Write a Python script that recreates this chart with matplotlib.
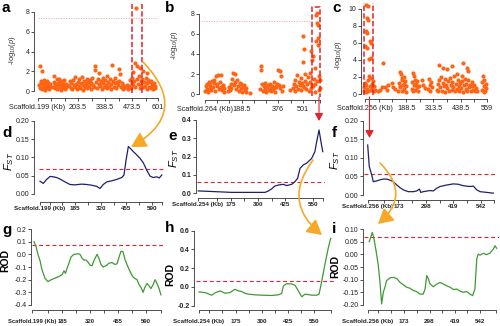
import matplotlib
matplotlib.use("Agg")
import matplotlib.pyplot as plt
from matplotlib.patches import FancyArrowPatch

plt.rcParams["font.family"] = ["Liberation Sans", "DejaVu Sans"]
plt.rcParams["mathtext.fontset"] = "custom"
plt.rcParams["mathtext.rm"] = "Liberation Sans"
plt.rcParams["mathtext.it"] = "Liberation Sans:italic"
plt.rcParams["mathtext.bf"] = "Liberation Sans:bold"

# --- Manhattan plots: SNP position (Kb) and -log10(p)
a_pos = [9, 12, 14, 17, 19, 22, 24, 27, 29, 32, 34, 37, 39, 42, 44, 47, 49, 52, 55, 58, 61, 64,
         78, 81, 84, 87, 90, 93, 96, 99, 102, 105, 108, 111, 114, 117, 120, 123, 126, 129, 132, 135,
         138, 141, 144, 148,
         158, 162, 166, 170, 174, 178, 182, 186, 190, 194, 198, 202, 206, 210, 214, 218, 222, 226,
         230, 234, 238, 242, 246, 250, 254, 258, 262, 266, 270, 274, 278, 282, 286, 290, 294, 298,
         302, 306, 310, 314, 318, 322, 326, 330, 334, 338, 342, 346, 350, 354, 358, 362, 366, 370,
         374, 378, 382, 386, 390, 394, 398, 402, 406, 410, 414, 418, 422, 426, 430, 434,
         440, 447, 452,
         459, 463, 467, 471, 475, 477, 480, 484, 488, 490, 493, 496, 500, 504, 508, 512, 513, 516,
         520, 524, 528, 530, 534, 538, 542, 546, 547, 550, 554, 558, 562, 566, 570, 574, 578, 582,
         586, 589]
a_logp = [0.6, 2.5, 0.3, 1.0, 0.8, 2.0, 0.2, 0.9, 0.5, 1.1, 0.4, 0.7, 0.1, 0.9, 0.6, 0.3, 1.0, 0.5,
          0.8, 0.2, 0.7, 0.4,
          0.4, 0.9, 1.5, 0.3, 0.7, 0.5, 1.2, 0.2, 0.8, 0.6, 1.2, 0.4, 0.9, 0.1, 0.6, 1.0, 0.3, 0.8,
          0.5, 1.1, 0.2, 0.7, 0.4, 0.6,
          0.5, 1.0, 0.3, 0.8, 0.2, 1.1, 0.6, 0.4, 1.4, 0.7, 0.2, 0.9, 0.5, 1.2, 0.3, 0.8, 1.4, 0.6,
          0.1, 1.0, 0.4, 0.7, 1.2, 0.3, 0.9, 0.5, 1.1, 0.2, 0.8, 1.3, 0.6, 0.4, 2.5, 2.1, 0.9, 0.3,
          1.2, 0.7, 1.8, 0.5, 1.0, 0.2, 1.3, 0.8, 0.4, 1.1, 0.6, 1.5, 0.3, 0.9, 0.5, 1.2, 0.2, 0.7,
          2.6, 1.0, 0.4, 0.8, 1.3, 0.3, 0.9, 0.6, 2.2, 1.0, 1.7, 0.4, 0.8, 0.2, 0.6, 0.3,
          0.4, 0.6, 0.2,
          0.5, 1.1, 0.3, 0.8, 1.3, 1.9, 0.6, 1.0, 2.8, 0.4, 8.4, 2.55, 1.2, 0.7, 1.5, 0.3, 2.3, 1.0,
          0.6, 1.2, 0.4, 2.0, 0.9, 0.5, 1.3, 0.2, 1.8, 0.8, 1.1, 0.4, 0.9, 0.3, 1.0, 0.6, 0.2, 0.8,
          0.5, 0.3]

b_pos = [0, 4, 8, 12, 16, 20, 24, 28, 32, 36, 40, 44, 48, 52, 56, 60, 64, 68, 72, 76, 80, 84, 88,
         92, 96, 100,
         118, 122, 127, 131, 135, 140, 144, 148, 152, 156, 161, 165, 170, 174, 178, 183, 187, 191,
         195, 200, 204, 208, 212, 229,
         281, 285, 289, 293, 298, 302, 306, 310, 315, 319, 323, 327, 332, 336, 340, 344, 349, 353,
         357, 361, 366, 370, 374, 378, 383, 387, 392, 396, 400, 434,
         451, 455, 460, 464, 469, 473, 477, 481, 486, 490, 494, 498, 503, 503, 503, 507, 508, 511,
         515, 520, 524, 528, 532, 537, 541, 545, 545, 549, 550, 554, 554, 558, 562, 566, 566, 571,
         571, 573, 575, 575, 580, 580, 582, 584, 584, 588, 588]
b_logp = [0.3, 0.8, 0.5, 1.0, 0.2, 1.2, 0.6, 0.9, 0.4, 1.3, 0.7, 1.1, 1.4, 0.3, 1.8, 0.8, 1.0, 1.9,
          0.5, 1.2, 0.7, 1.9, 0.4, 0.9, 0.6, 0.2,
          0.3, 0.7, 0.4, 1.0, 0.6, 1.5, 2.1, 0.9, 2.0, 1.2, 0.5, 1.4, 0.8, 0.3, 1.1, 0.6, 1.0, 0.2,
          0.7, 0.9, 0.4, 0.6, 0.2, 0.1,
          0.5, 2.8, 2.4, 1.0, 0.3, 0.8, 0.5, 1.1, 0.2, 0.7, 0.9, 0.4, 1.0, 0.6, 0.3, 0.8, 0.5, 1.2,
          0.2, 0.7, 0.7, 1.0, 2.4, 0.9, 2.3, 0.6, 1.8, 0.3, 0.8, 0.4,
          0.6, 1.0, 0.3, 1.4, 0.8, 1.9, 0.5, 1.2, 0.9, 1.6, 0.4, 1.1, 5.8, 3.2, 0.8, 0.7, 4.5, 1.3,
          2.0, 0.5, 1.0, 1.7, 0.3, 1.2, 2.1, 4.3, 0.6, 0.9, 3.4, 3.8, 0.8, 1.5, 2.6, 1.0, 0.2, 7.9,
          5.3, 8.1, 7.1, 1.3, 6.9, 4.9, 5.6, 1.8, 0.4, 0.6, 1.4]

c_pos = [-6, -3, 0, 3, 6, 9, 12, 15, 18, 21, 24, 27, 30, 33, 36, 39, 42, 45,
         5, 12, 8, 12, 3, 11, 0, 8, 23, 28, 20, 28,
         61, 69, 76, 84, 92, 99, 107, 122, 130, 138,
         153, 156, 159, 160, 162, 165, 168, 170, 171, 174, 177, 180, 180, 183, 186, 189,
         214, 217, 220, 222, 225, 226, 228, 231, 234, 237, 240, 243, 246, 260, 268, 275,
         291, 294, 297, 300, 303, 306,
         329, 333, 337, 341, 345, 349, 353, 357, 361, 365, 369, 373, 377, 381, 385, 389, 393, 397,
         401, 405, 409, 413, 417, 421, 425, 429, 433, 437, 441, 445, 449, 453, 457, 461, 465, 469,
         473, 477, 481, 485, 489, 493, 497, 501, 505, 509, 512,
         340, 359, 377, 397, 420, 443, 451, 466, 474,
         535, 538, 541, 544, 544, 547, 550, 553, 556]
c_logp = [0.8, 0.4, 1.3, 0.2, 1.0, 0.6, 1.6, 0.3, 2.1, 0.9, 1.9, 0.5, 1.2, 0.7, 1.5, 0.3, 0.9, 0.5,
          10.5, 10.4, 8.9, 8.7, 7.4, 7.2, 5.6, 5.4, 6.2, 6.0, 4.1, 4.2,
          0.4, 0.5, 0.8, 3.6, 0.8, 0.5, 1.1, 1.3, 0.8, 0.6,
          0.4, 1.3, 2.6, 0.9, 0.8, 2.4, 1.7, 1.9, 0.3, 1.1, 2.0, 0.6, 1.2, 1.5, 0.9, 0.2,
          0.6, 1.4, 0.3, 2.5, 1.0, 2.1, 1.7, 0.5, 1.2, 0.8, 1.5, 0.3, 0.9, 1.7, 1.1, 0.7,
          0.6, 1.8, 1.0, 0.4, 1.4, 0.8,
          0.5, 1.2, 0.3, 1.6, 0.8, 2.0, 0.4, 1.3, 0.9, 1.8, 0.2, 1.1, 0.7, 1.5, 0.3, 1.9, 1.0, 0.5,
          1.4, 0.8, 2.1, 0.3, 1.2, 0.6, 1.7, 0.9, 0.4, 1.3, 0.7, 1.5, 0.2, 1.0, 1.8, 0.6, 1.2, 0.4,
          1.6, 0.8, 1.1, 0.3, 0.9, 1.4, 0.5, 1.0, 0.3, 0.7, 0.4,
          3.45, 3.1, 2.9, 3.3, 2.4, 2.1, 3.65, 3.05, 2.7,
          0.5, 1.4, 2.1, 0.9, 0.2, 1.7, 0.4, 1.2, 0.7]

# --- sliding-window FST
d_pos = [0, 17, 35, 53, 70, 88, 105, 132, 158, 184, 219, 246, 272, 298, 316, 333, 351, 377, 404,
         430, 442, 453, 465, 477, 491, 509, 526, 544, 561, 579, 596, 614, 628, 641]
d_fst = [0.035, 0.029, 0.040, 0.048, 0.047, 0.045, 0.041, 0.033, 0.026, 0.025, 0.027, 0.026, 0.024,
         0.021, 0.015, 0.026, 0.033, 0.036, 0.040, 0.045, 0.052, 0.093, 0.130, 0.124, 0.116, 0.107,
         0.098, 0.085, 0.066, 0.049, 0.045, 0.047, 0.044, 0.052]

e_pos = [26, 103, 179, 255, 332, 347, 362, 377, 393, 415, 431, 454, 469, 481, 492, 507, 522, 545,
         560, 568, 579, 588, 596]
e_fst = [0.013, 0.009, 0.005, 0.005, 0.005, 0.013, 0.024, 0.040, 0.045, 0.049, 0.042, 0.049, 0.064,
         0.082, 0.136, 0.155, 0.164, 0.190, 0.227, 0.280, 0.345, 0.280, 0.227]

f_pos = [36, 43, 54, 61, 76, 91, 106, 121, 136, 150, 166, 180, 195, 217, 240, 255, 267, 273, 284,
         314, 329, 344, 359, 389, 418, 441, 463, 493, 508, 523, 538, 568, 597]
f_fst = [0.135, 0.077, 0.054, 0.036, 0.038, 0.041, 0.043, 0.043, 0.040, 0.036, 0.027, 0.020, 0.014,
         0.009, 0.009, 0.011, 0.016, 0.007, 0.009, 0.012, 0.011, 0.018, 0.023, 0.027, 0.030, 0.029,
         0.025, 0.023, 0.024, 0.014, 0.009, 0.007, 0.005]

# --- reduction of diversity (ROD)
g_pos = [50, 60, 69, 79, 88, 103, 117, 133, 156, 175, 185, 194, 201, 209, 218, 228, 242, 261, 271,
         281, 290, 300, 309, 319, 329, 338, 353, 362, 372, 382, 396, 410, 425, 439, 449, 459, 468,
         478, 487, 497, 507, 516, 526, 535, 545, 555, 564, 574, 583, 593, 603, 612, 622, 632, 641,
         651, 660]
g_rod = [0.10, 0.06, 0.0, -0.05, -0.12, -0.19, -0.215, -0.20, -0.185, -0.17, -0.16, -0.13, -0.15,
         -0.11, -0.07, -0.02, 0.0, 0.005, 0.0, -0.03, -0.045, -0.045, -0.06, -0.085, -0.09, -0.05,
         0.0, -0.03, -0.08, -0.10, -0.09, -0.07, -0.065, -0.08, -0.075, -0.02, 0.025, 0.02, -0.04,
         -0.08, -0.12, -0.15, -0.18, -0.19, -0.20, -0.24, -0.26, -0.30, -0.26, -0.23, -0.25, -0.27,
         -0.24, -0.20, -0.23, -0.27, -0.32]

h_pos = [0, 29, 61, 77, 101, 125, 148, 172, 188, 205, 220, 236, 268, 300, 348, 380, 396, 404, 420,
         444, 460, 476, 492, 508, 523, 540, 564, 575, 588, 603, 619, 631]
h_rod = [-0.053, -0.060, -0.088, -0.063, -0.042, -0.067, -0.060, -0.025, -0.042, -0.049, -0.067,
         -0.077, -0.084, -0.088, -0.091, -0.084, -0.070, 0.010, 0.035, 0.032, 0.018, -0.042, -0.105,
         -0.077, -0.081, -0.088, -0.088, -0.077, 0.063, 0.239, 0.414, 0.519]

i_pos = [6, 13, 21, 29, 39, 50, 58, 66, 74, 82, 90, 106, 122, 139, 155, 171, 187, 203, 219, 235,
         251, 267, 276, 284, 292, 300, 316, 332, 348, 364, 380, 397, 413, 429, 445, 461, 477, 493,
         506, 517, 526, 533, 542, 558, 574, 590, 606, 614, 622]
i_rod = [0.050, 0.067, 0.087, 0.061, 0.014, -0.045, -0.111, -0.196, -0.150, -0.130, -0.104, -0.093,
         -0.091, -0.095, -0.111, -0.120, -0.130, -0.134, -0.143, -0.147, -0.157, -0.157, -0.137,
         -0.084, -0.097, -0.117, -0.128, -0.118, -0.111, -0.117, -0.124, -0.130, -0.139, -0.137,
         -0.145, -0.150, -0.147, -0.157, -0.163, -0.137, -0.018, 0.001, -0.003, 0.004, -0.001,
         0.005, 0.021, 0.034, 0.024]

# thresholds
a_cut, b_cut = 7.35, 7.3
d_cut, e_cut, f_cut = 0.068, 0.06, 0.056
g_cut, h_cut, i_cut = 0.074, 0.063, 0.07

W, H = 500, 326
PT = 0.72  # points per pixel at 100 dpi
DOT = "#FF6414"
RED = "#E2232B"
PINK = "#F2A3A3"
NAVY = "#1E206E"
GREEN = "#3E9A33"
AMBER = "#F6A828"

fig = plt.figure(figsize=(W / 100, H / 100), dpi=100)


def place(l, t, r, b):
    return [l / W, 1 - b / H, (r - l) / W, (b - t) / H]


def ftext(x, y, s, **kw):
    fig.text(x / W, 1 - y / H, s, **kw)


def r_axes(box, xlim, ylim, xticks, xlabels, yticks, ylabels, yoff, xoff, xpad,
           xsize=4.5, xweight="bold", yweight="normal"):
    ax = fig.add_axes(place(*box))
    ax.patch.set_alpha(0)
    ax.set_xlim(*xlim)
    ax.set_ylim(*ylim)
    ax.spines["top"].set_visible(False)
    ax.spines["right"].set_visible(False)
    ax.spines["left"].set_position(("outward", yoff * PT))
    ax.spines["bottom"].set_position(("outward", xoff * PT))
    ax.spines["left"].set_bounds(yticks[0], yticks[-1])
    ax.spines["bottom"].set_bounds(xticks[0], xticks[-1])
    for s in ("left", "bottom"):
        ax.spines[s].set_linewidth(0.6)
        ax.spines[s].set_color("#333333")
    ax.set_xticks(xticks, xlabels, fontsize=xsize, fontweight=xweight)
    ax.set_yticks(yticks, ylabels, fontsize=5, fontweight=yweight)
    ax.tick_params(length=2.2, width=0.6, color="#333333", labelcolor="#222222")
    ax.tick_params(axis="x", pad=xpad)
    ax.tick_params(axis="y", pad=1)
    return ax


def dashed_cut(ax, y):
    ax.axhline(y, color=RED, lw=0.8, ls=(0, (3.5, 2.5)))


def fig_arrow(p0, p1, color, rad, lw, hl, hw):
    arr = FancyArrowPatch((p0[0] / W, 1 - p0[1] / H), (p1[0] / W, 1 - p1[1] / H),
                          transform=fig.transFigure, connectionstyle=f"arc3,rad={rad}",
                          arrowstyle=f"-|>,head_length={hl},head_width={hw}",
                          color=color, lw=lw, shrinkA=0, shrinkB=0)
    fig.patches.append(arr)


# ---- row 1: Manhattan plots
ax = r_axes((36, 2, 160, 94), (-6.5, 613.5), (-0.30, 9.01),
            [1, 68.5, 136, 203.5, 271, 338.5, 406, 473.5, 541, 601],
            ["Scaffold.199 (Kb)", "", "", "203.5", "", "338.5", "", "473.5", "", "601"],
            [0, 2, 4, 6, 8], ["0", "2", "4", "6", "8"], 2, 4, 1.8, 5.2, "normal")
ax.plot([5, 605], [a_cut, a_cut], color=PINK, lw=0.6, ls=(0, (1.5, 1.5)))
ax.scatter(a_pos, a_logp, s=9, color=DOT, lw=0, clip_on=False)
for xv in (473.5, 523.5):
    ax.plot([xv, xv], [-0.2, 8.8], color=RED, lw=1.1, ls=(0, (3.5, 1.5)), clip_on=False)

ax = r_axes((201, 4, 322, 97), (-20.5, 600), (-0.3, 9.0),
            [0, 62.5, 125, 188.5, 250, 313, 376, 438.5, 501, 563, 590],
            ["Scaffold.264 (Kb)", "", "", "188.5", "", "", "376", "", "501", "", ""],
            [0, 2, 4, 6, 8], ["0", "2", "4", "6", "8"], 2, 3, 1.8, 5.2, "normal")
ax.plot([-20, 549], [b_cut, b_cut], color=PINK, lw=0.6, ls=(0, (1.5, 1.5)))
ax.scatter(b_pos, b_logp, s=9, color=DOT, lw=0, clip_on=False)
ax.plot([549, 549, 590, 590], [-0.2, 8.75, 8.75, -0.3], color=RED, lw=1.1,
        ls=(0, (3.5, 1.5)), clip_on=False)

ax = r_axes((362, 3, 489, 96), (-13.8, 568.8), (-0.235, 10.7),
            [0, 63.5, 126, 188.5, 251, 313.5, 376, 438.5, 501, 559],
            ["Scaffold.256 (Kb)", "", "", "188.5", "", "313.5", "", "438.5", "", "559"],
            [0, 2, 4, 6, 8, 10], ["0", "2", "4", "6", "8", "10"], 1, 3, 1.8, 5.2, "normal")
ax.scatter(c_pos, c_logp, s=9, color=DOT, lw=0, clip_on=False)
for xv in (-4.6, 36.7):
    ax.plot([xv, xv], [-0.1, 10.7], color=RED, lw=1.1, ls=(0, (3.5, 1.5)), clip_on=False)

# ---- row 2: FST
ax = r_axes((39, 118, 164, 196), (-5.3, 652.6), (-0.0055, 0.208),
            [0, 50, 117.5, 185, 252.5, 320, 387.5, 455, 522.5, 590, 641],
            ["Scaffold.199 (Kb)", "", "", "185", "", "320", "", "455", "", "590", ""],
            [0, 0.05, 0.10, 0.15, 0.20], ["0.00", "0.05", "0.10", "0.15", "0.20"], 5, 6, 0.8)
dashed_cut(ax, d_cut)
ax.plot(d_pos, d_fst, color=NAVY, lw=0.9)

ax = r_axes((197, 117, 325, 195), (20.2, 606.3), (-0.0093, 0.416),
            [25, 112.5, 175, 237.5, 300, 362.5, 425, 487.5, 550, 597],
            ["Scaffold.254 (Kb)", "", "175", "", "300", "", "425", "", "550", ""],
            [0, 0.1, 0.2, 0.3, 0.4], ["0.0", "0.1", "0.2", "0.3", "0.4"], 1, 3, 0.8,
            yweight="bold")
dashed_cut(ax, e_cut)
ax.plot(e_pos, e_fst, color=NAVY, lw=0.9)

ax = r_axes((364, 118, 497, 197), (19.5, 613.5), (-0.0054, 0.208),
            [36, 110, 173, 235.5, 298, 358.5, 419, 480.5, 542, 600],
            ["Scaffold.256 (Kb)", "", "173", "", "298", "", "419", "", "542", ""],
            [0, 0.05, 0.10, 0.15, 0.20], ["0.00", "0.05", "0.10", "0.15", "0.20"], 1, 3, 0.8)
dashed_cut(ax, f_cut)
ax.plot(f_pos, f_fst, color=NAVY, lw=0.9)

# ---- row 3: ROD
ax = r_axes((32, 226, 164, 307), (40.4, 674.7), (-0.416, 0.224),
            [40.4, 117.5, 185, 252.5, 320, 387.5, 455, 522.5, 590, 660],
            ["Scaffold.199 (Kb)", "", "185", "", "320", "", "455", "", "590", ""],
            [-0.4, -0.3, -0.2, -0.1, 0, 0.1, 0.2],
            ["-0.4", "-0.3", "-0.2", "-0.1", "0.0", "0.1", "0.2"], 1, 3, 4.3, xsize=4.2)
dashed_cut(ax, g_cut)
ax.plot(g_pos, g_rod, color=GREEN, lw=0.9)

ax = r_axes((196, 228, 334, 307), (-14.4, 646.6), (-0.214, 0.629),
            [0, 50, 112.5, 175, 237.5, 300, 362.5, 425, 487.5, 550, 630],
            ["Scaffold.254 (Kb)", "", "", "175", "", "300", "", "425", "", "550", ""],
            [-0.2, 0, 0.2, 0.4, 0.6], ["-0.2", "0.0", "0.2", "0.4", "0.6"], 2, 3, 4.3,
            yweight="bold")
dashed_cut(ax, h_cut)
ax.plot(h_pos, h_rod, color=GREEN, lw=0.9)

ax = r_axes((364, 226, 499, 307), (-19.3, 633.5), (-0.208, 0.112),
            [0, 50, 111.5, 173, 235.5, 298, 358.5, 419, 480.5, 542, 620],
            ["Scaffold.256 (Kb)", "", "", "173", "", "298", "", "419", "", "542", ""],
            [-0.2, -0.15, -0.1, -0.05, 0, 0.05, 0.1],
            ["-0.20", "-0.15", "-0.10", "-0.05", "0.00", "0.05", "0.10"], 1, 3, 4.3)
dashed_cut(ax, i_cut)
ax.plot(i_pos, i_rod, color=GREEN, lw=0.9)

# ---- axis titles
logp = r"-log$_{10}$($p$)"
for x, y in ((12, 50), (174, 45), (338, 55)):
    ftext(x, y, logp, fontsize=5.5, rotation=90, ha="center", va="center", color="#333333")
for x, y in ((9, 161), (174, 158), (335, 160)):
    ftext(x, y, r"$\mathbf{\mathit{F}}_{ST}$", fontsize=8, rotation=90, ha="center", va="center")
for x, y in ((5, 261), (170, 274), (335, 266)):
    ftext(x, y, "ROD", fontsize=7.5, fontweight="bold", rotation=90, ha="center", va="center")

# ---- panel letters
for s, x, y in (("a", 2, 12), ("b", 165, 12), ("c", 332, 12),
                ("d", 2, 137), ("e", 168, 140), ("f", 332, 137),
                ("g", 2, 234), ("h", 165, 232), ("i", 332, 233)):
    ftext(x, y, s, fontsize=11, fontweight="bold", ha="left", va="baseline")

# ---- arrows linking the panels
fig_arrow((143, 62), (131, 147), AMBER, -0.64, 1.2, 9, 5)
fig_arrow((313, 160), (322, 235), AMBER, 0.48, 1.2, 9, 5)
fig_arrow((380, 163), (378, 224), AMBER, -0.54, 1.2, 9, 5)
fig_arrow((319, 97), (319, 121), RED, 0.0, 0.8, 4.5, 2.5)
fig_arrow((369.5, 97), (369.5, 138), RED, 0.0, 0.8, 4.5, 2.5)

fig.savefig("out.png", dpi=100)
